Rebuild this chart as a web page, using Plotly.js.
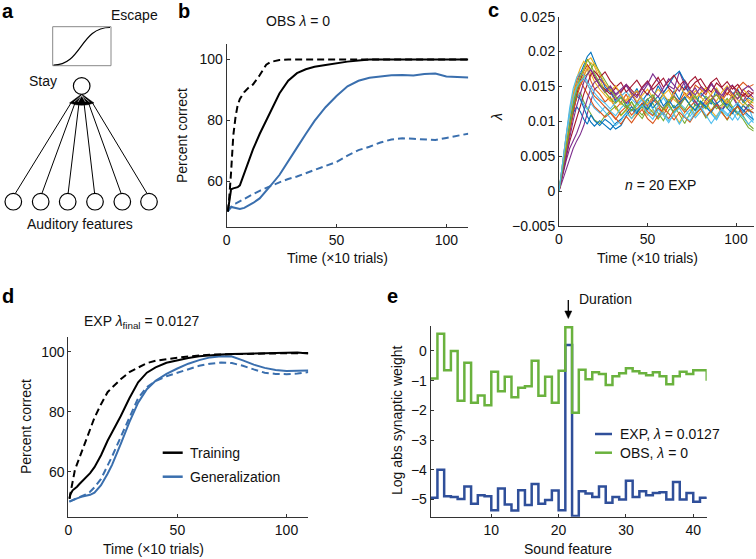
<!DOCTYPE html>
<html>
<head>
<meta charset="utf-8">
<script src="https://cdn.plot.ly/plotly-3.0.1.min.js"></script>
<style>
  html, body { margin: 0; padding: 0; background: #fff; }
  #chart { width: 756px; height: 559px; }
</style>
</head>
<body>
<div id="chart"></div>
<script>
// ---- panel b / d : percent correct over time (x10 trials)
const timeX = [0.5, 1, 2, 3, 4, 5, 6, 8, 10, 12, 15, 18, 20, 24, 28, 32, 36, 40, 45, 50, 55, 60, 65, 70, 75, 80, 85, 90, 95, 100, 105, 110];

const obsTrainDash = [50, 53, 63, 75, 81, 85, 87, 89.3, 90.8, 91.8, 94.8, 98.3, 99.2, 99.8, 100, 100, 100, 100, 100, 100, 100, 100, 100, 100, 100, 100, 100, 100, 100, 100, 100, 100];
const obsTrainSolid = [50, 53, 57.3, 57.6, 57.8, 58, 58.6, 62.5, 66.5, 70.5, 75.5, 80, 82.8, 88.8, 93, 95.5, 96.8, 97.6, 98.2, 98.8, 99.3, 99.7, 100, 100, 100, 100, 100, 100, 100, 100, 100, 100];
const obsGenSolid = [50, 50.8, 51.5, 51.3, 51, 50.8, 50.8, 51.2, 52, 52.8, 54.3, 57, 58.5, 62, 66.3, 71, 75.5, 79.8, 84.3, 88, 91.2, 93, 94, 94.5, 94.8, 94.9, 94.7, 95.2, 95.4, 94.4, 94.2, 94.1];
const obsGenDash = [50, 50.5, 51.5, 52.3, 52.6, 53, 53.5, 54.3, 55, 55.7, 56.8, 57.8, 58.3, 59.6, 60.7, 61.5, 62.6, 63.6, 64.8, 66.3, 68.4, 70.2, 71.3, 72.7, 73.7, 74.1, 73.9, 73.6, 73.5, 74.2, 74.8, 75.6];

const expTrainDash = [51, 53, 57.5, 60.5, 62.5, 64.5, 66.5, 70, 74.5, 78, 82.5, 86.5, 88, 90.8, 93.2, 94.8, 96.2, 97, 97.6, 98, 98.4, 98.8, 99, 99.1, 99.2, 99.2, 99.3, 99.3, 99.4, 99.5, 99.5, 99.6];
const expTrainSolid = [51, 52.5, 53.8, 54.3, 55, 55.8, 56.5, 57.8, 59.5, 61.5, 65.5, 70.3, 73, 78.5, 84.5, 89.8, 93, 94.8, 96.3, 97.2, 97.9, 98.5, 98.9, 99.1, 99.2, 99.3, 99.3, 99.4, 99.5, 99.8, 99.7, 99.4];
const expGenSolid = [50, 50.2, 50.5, 50.8, 51.1, 51.4, 51.6, 52, 52.3, 53, 55.5, 59.3, 62.2, 69.2, 76.5, 83, 87.5, 90.3, 92.6, 94.4, 96, 97.2, 98.1, 98.5, 98.4, 97.1, 95.7, 94.6, 93.9, 93.6, 93.6, 93.7];
const expGenDash = [50, 50.2, 50.5, 50.9, 51.2, 51.5, 51.8, 52.4, 53.3, 54.8, 57.6, 61.8, 65, 71.5, 78.3, 84.5, 88.2, 90.2, 91.8, 93, 94.2, 95.3, 96, 96.4, 96.2, 95.3, 94.1, 93, 92.6, 92.5, 92.7, 93.2];

// ---- panel c : lambda trajectories, n = 20 EXP
const lamX = [0, 2, 4, 6, 8, 10, 12, 14, 16, 18, 20, 23, 26, 29, 32, 35, 38, 41, 44, 47, 50, 53, 56, 59, 62, 65, 68, 71, 74, 77, 80, 83, 86, 89, 92, 95, 98, 101, 104, 107, 110];
const lam01 = [0, 0.0035, 0.0068, 0.0102, 0.0131, 0.0152, 0.0168, 0.0181, 0.0193, 0.0199, 0.0186, 0.0168, 0.0149, 0.0142, 0.0128, 0.0136, 0.0121, 0.0134, 0.0147, 0.0129, 0.0140, 0.0132, 0.0151, 0.0138, 0.0126, 0.0144, 0.0131, 0.0150, 0.0139, 0.0122, 0.0141, 0.0133, 0.0125, 0.0147, 0.0131, 0.0124, 0.0139, 0.0146, 0.0127, 0.0134, 0.0129];
const lam02 = [0, 0.0041, 0.0079, 0.0113, 0.0139, 0.0158, 0.0171, 0.0165, 0.0176, 0.0158, 0.0147, 0.0139, 0.0128, 0.0135, 0.0118, 0.0127, 0.0139, 0.0121, 0.0112, 0.0126, 0.0117, 0.0131, 0.0124, 0.0109, 0.0122, 0.0136, 0.0128, 0.0141, 0.0133, 0.0152, 0.0146, 0.0138, 0.0155, 0.0143, 0.0131, 0.0147, 0.0137, 0.0124, 0.0139, 0.0128, 0.0121];
const lam03 = [0, 0.0029, 0.0061, 0.0092, 0.0118, 0.0139, 0.0155, 0.0167, 0.0176, 0.0184, 0.0179, 0.0161, 0.0143, 0.0131, 0.0119, 0.0108, 0.0116, 0.0104, 0.0112, 0.0121, 0.0109, 0.0117, 0.0103, 0.0114, 0.0125, 0.0111, 0.0098, 0.0113, 0.0122, 0.0108, 0.0119, 0.0127, 0.0115, 0.0106, 0.0121, 0.0132, 0.0118, 0.0109, 0.0123, 0.0114, 0.0119];
const lam04 = [0, 0.0015, 0.0032, 0.0048, 0.0061, 0.0072, 0.0081, 0.0094, 0.0112, 0.0131, 0.0146, 0.0152, 0.0141, 0.0149, 0.0137, 0.0144, 0.0151, 0.0139, 0.0126, 0.0141, 0.0153, 0.0168, 0.0157, 0.0142, 0.0151, 0.0146, 0.0171, 0.0152, 0.0139, 0.0148, 0.0135, 0.0144, 0.0156, 0.0141, 0.0133, 0.0147, 0.0152, 0.0138, 0.0129, 0.0141, 0.0134];
const lam05 = [0, 0.0033, 0.0066, 0.0095, 0.0117, 0.0133, 0.0142, 0.0128, 0.0119, 0.0111, 0.0102, 0.0097, 0.0108, 0.0115, 0.0122, 0.0109, 0.0117, 0.0128, 0.0113, 0.0104, 0.0118, 0.0126, 0.0112, 0.0101, 0.0116, 0.0123, 0.0109, 0.0097, 0.0112, 0.0124, 0.0118, 0.0105, 0.0116, 0.0127, 0.0114, 0.0102, 0.0113, 0.0121, 0.0108, 0.0096, 0.0089];
const lam06 = [0, 0.0038, 0.0074, 0.0106, 0.0129, 0.0141, 0.0136, 0.0124, 0.0117, 0.0126, 0.0119, 0.0112, 0.0121, 0.0114, 0.0108, 0.0119, 0.0127, 0.0116, 0.0122, 0.0131, 0.0118, 0.0109, 0.0123, 0.0134, 0.0121, 0.0113, 0.0126, 0.0119, 0.0107, 0.0118, 0.0129, 0.0121, 0.0112, 0.0103, 0.0117, 0.0124, 0.0113, 0.0102, 0.0114, 0.0121, 0.0101];
const lam07 = [0, 0.0027, 0.0056, 0.0084, 0.0112, 0.0138, 0.0159, 0.0172, 0.0181, 0.0174, 0.0163, 0.0152, 0.0146, 0.0139, 0.0148, 0.0141, 0.0153, 0.0145, 0.0137, 0.0149, 0.0158, 0.0146, 0.0154, 0.0162, 0.0148, 0.0139, 0.0151, 0.0159, 0.0147, 0.0156, 0.0161, 0.0149, 0.0142, 0.0155, 0.0148, 0.0138, 0.0151, 0.0143, 0.0136, 0.0144, 0.0139];
const lam08 = [0, 0.0031, 0.0064, 0.0093, 0.0112, 0.0121, 0.0114, 0.0103, 0.0096, 0.0109, 0.0101, 0.0094, 0.0103, 0.0097, 0.0089, 0.0094, 0.0108, 0.0117, 0.0111, 0.0124, 0.0132, 0.0119, 0.0128, 0.0141, 0.0153, 0.0165, 0.0172, 0.0158, 0.0143, 0.0134, 0.0127, 0.0119, 0.0131, 0.0122, 0.0115, 0.0126, 0.0118, 0.0111, 0.0123, 0.0116, 0.0112];
const lam09 = [0, 0.0036, 0.0071, 0.0103, 0.0127, 0.0146, 0.0158, 0.0149, 0.0138, 0.0129, 0.0121, 0.0114, 0.0106, 0.0112, 0.0103, 0.0114, 0.0121, 0.0109, 0.0117, 0.0126, 0.0114, 0.0108, 0.0119, 0.0112, 0.0104, 0.0116, 0.0122, 0.0113, 0.0121, 0.0129, 0.0118, 0.0124, 0.0132, 0.0138, 0.0129, 0.0141, 0.0135, 0.0148, 0.0156, 0.0149, 0.0153];
const lam10 = [0, 0.0039, 0.0077, 0.0112, 0.0141, 0.0162, 0.0176, 0.0186, 0.0179, 0.0168, 0.0157, 0.0146, 0.0138, 0.0129, 0.0136, 0.0124, 0.0131, 0.0142, 0.0128, 0.0137, 0.0146, 0.0134, 0.0127, 0.0138, 0.0145, 0.0131, 0.0124, 0.0136, 0.0144, 0.0132, 0.0141, 0.0148, 0.0136, 0.0129, 0.0142, 0.0151, 0.0139, 0.0133, 0.0146, 0.0138, 0.0131];
const lam11 = [0, 0.0022, 0.0043, 0.0061, 0.0072, 0.0083, 0.0097, 0.0115, 0.0132, 0.0147, 0.0156, 0.0161, 0.0152, 0.0144, 0.0131, 0.0139, 0.0126, 0.0134, 0.0143, 0.0131, 0.0122, 0.0135, 0.0127, 0.0118, 0.0129, 0.0137, 0.0124, 0.0132, 0.0141, 0.0128, 0.0119, 0.0131, 0.0138, 0.0126, 0.0117, 0.0128, 0.0135, 0.0122, 0.0113, 0.0124, 0.0118];
const lam12 = [0, 0.0034, 0.0069, 0.0101, 0.0126, 0.0144, 0.0156, 0.0163, 0.0168, 0.0176, 0.0183, 0.0171, 0.0158, 0.0146, 0.0135, 0.0127, 0.0119, 0.0128, 0.0117, 0.0109, 0.0121, 0.0113, 0.0104, 0.0118, 0.0125, 0.0112, 0.0121, 0.0133, 0.0124, 0.0115, 0.0126, 0.0136, 0.0129, 0.0118, 0.0124, 0.0133, 0.0121, 0.0112, 0.0103, 0.0091, 0.0086];
const lam13 = [0, 0.0042, 0.0083, 0.0119, 0.0147, 0.0163, 0.0171, 0.0166, 0.0158, 0.0149, 0.0141, 0.0132, 0.0126, 0.0118, 0.0127, 0.0136, 0.0143, 0.0132, 0.0124, 0.0133, 0.0127, 0.0118, 0.0106, 0.0113, 0.0101, 0.0109, 0.0096, 0.0108, 0.0117, 0.0105, 0.0114, 0.0123, 0.0111, 0.0102, 0.0116, 0.0108, 0.0119, 0.0127, 0.0114, 0.0106, 0.0098];
const lam14 = [0, 0.0024, 0.0049, 0.0071, 0.0088, 0.0103, 0.0121, 0.0139, 0.0154, 0.0167, 0.0172, 0.0163, 0.0171, 0.0158, 0.0149, 0.0156, 0.0142, 0.0151, 0.0159, 0.0147, 0.0138, 0.0152, 0.0163, 0.0149, 0.0158, 0.0166, 0.0153, 0.0145, 0.0157, 0.0164, 0.0151, 0.0143, 0.0156, 0.0162, 0.0149, 0.0157, 0.0146, 0.0153, 0.0141, 0.0135, 0.0142];
const lam15 = [0, 0.0033, 0.0067, 0.0098, 0.0121, 0.0137, 0.0132, 0.0118, 0.0107, 0.0099, 0.0093, 0.0101, 0.0094, 0.0088, 0.0097, 0.0103, 0.0112, 0.0121, 0.0113, 0.0124, 0.0117, 0.0128, 0.0136, 0.0122, 0.0131, 0.0119, 0.0127, 0.0135, 0.0123, 0.0116, 0.0129, 0.0121, 0.0113, 0.0125, 0.0132, 0.0119, 0.0111, 0.0124, 0.0116, 0.0109, 0.0102];
const lam16 = [0, 0.0030, 0.0059, 0.0087, 0.0114, 0.0135, 0.0151, 0.0161, 0.0153, 0.0144, 0.0136, 0.0129, 0.0121, 0.0113, 0.0104, 0.0096, 0.0107, 0.0098, 0.0109, 0.0117, 0.0104, 0.0097, 0.0108, 0.0119, 0.0111, 0.0102, 0.0113, 0.0106, 0.0099, 0.0111, 0.0118, 0.0107, 0.0116, 0.0124, 0.0112, 0.0103, 0.0115, 0.0122, 0.0109, 0.0117, 0.0112];
const lam17 = [0, 0.0037, 0.0072, 0.0105, 0.0133, 0.0151, 0.0164, 0.0172, 0.0187, 0.0191, 0.0182, 0.0168, 0.0154, 0.0143, 0.0151, 0.0138, 0.0129, 0.0137, 0.0144, 0.0131, 0.0124, 0.0135, 0.0146, 0.0138, 0.0129, 0.0141, 0.0152, 0.0139, 0.0131, 0.0144, 0.0136, 0.0127, 0.0139, 0.0148, 0.0135, 0.0126, 0.0138, 0.0131, 0.0123, 0.0131, 0.0126];
const lam18 = [0, 0.0026, 0.0053, 0.0079, 0.0101, 0.0122, 0.0141, 0.0156, 0.0167, 0.0174, 0.0166, 0.0152, 0.0143, 0.0151, 0.0139, 0.0146, 0.0153, 0.0141, 0.0134, 0.0147, 0.0156, 0.0143, 0.0135, 0.0148, 0.0161, 0.0152, 0.0143, 0.0157, 0.0145, 0.0138, 0.0149, 0.0142, 0.0153, 0.0144, 0.0137, 0.0149, 0.0141, 0.0132, 0.0145, 0.0151, 0.0143];
const lam19 = [0, 0.0032, 0.0063, 0.0094, 0.0122, 0.0145, 0.0163, 0.0176, 0.0189, 0.0181, 0.0169, 0.0155, 0.0142, 0.0133, 0.0126, 0.0134, 0.0123, 0.0115, 0.0126, 0.0119, 0.0131, 0.0138, 0.0126, 0.0117, 0.0129, 0.0136, 0.0124, 0.0116, 0.0128, 0.0137, 0.0125, 0.0118, 0.0131, 0.0139, 0.0127, 0.0119, 0.0132, 0.0141, 0.0129, 0.0121, 0.0133];
const lam20 = [0, 0.0040, 0.0078, 0.0109, 0.0133, 0.0149, 0.0157, 0.0162, 0.0154, 0.0143, 0.0131, 0.0122, 0.0114, 0.0105, 0.0094, 0.0101, 0.0112, 0.0104, 0.0116, 0.0123, 0.0111, 0.0103, 0.0117, 0.0109, 0.0098, 0.0112, 0.0119, 0.0107, 0.0101, 0.0113, 0.0121, 0.0109, 0.0097, 0.0108, 0.0118, 0.0111, 0.0102, 0.0114, 0.0106, 0.0096, 0.0104];
const lamRuns = [lam01, lam02, lam03, lam04, lam05, lam06, lam07, lam08, lam09, lam10,
                 lam11, lam12, lam13, lam14, lam15, lam16, lam17, lam18, lam19, lam20];
const runColors = ['#0072BD', '#D95319', '#EDB120', '#7E2F8E', '#77AC30', '#4DBEEE', '#A2142F'];

// ---- panel e : log abs synaptic weight per sound feature
const featureX = [1, 2, 3, 4, 5, 6, 7, 8, 9, 10, 11, 12, 13, 14, 15, 16, 17, 18, 19, 20, 21,
                  22, 23, 24, 25, 26, 27, 28, 29, 30, 31, 32, 33, 34, 35, 36, 37, 38, 39, 40, 41, 42];
const expWeights = [-4.94, -4.00, -4.89, -4.92, -4.98, -4.56, -5.14, -4.86, -4.89, -5.36, -4.63, -5.17, -5.37, -4.69, -5.19, -4.48, -5.14, -5.02, -4.70, -5.36, 0.20,
                    -5.56, -4.72, -4.80, -4.92, -4.56, -5.11, -4.92, -5.00, -4.37, -4.92, -4.72, -4.86, -4.78, -4.76, -5.00, -4.41, -5.00, -4.78, -5.08, -4.94, -4.92];
const obsWeights = [-0.93, 0.58, -0.65, 0.00, -1.68, -0.40, -1.74, -1.50, -1.83, -0.70, -1.36, -0.87, -1.56, -1.24, -1.19, -0.33, -1.51, -0.87, -1.74, -0.67, 0.80,
                    -2.08, -0.63, -0.95, -0.72, -0.78, -1.15, -0.85, -0.75, -0.58, -0.68, -0.75, -0.82, -0.72, -0.85, -1.12, -0.85, -0.70, -0.78, -0.65, -0.65, -1.00];

const BLUE = '#3a6fae';
const FONT = 'Liberation Sans, Arial, sans-serif';
const FS = 14;

// pixel -> paper helpers (figure is 756 x 559 with no margins)
const W = 756, H = 559;
const px = x => x / W;
const py = y => 1 - y / H;

const curve = (x, y, xa, ya, color, dash) => ({
  x, y, xaxis: xa, yaxis: ya, type: 'scatter', mode: 'lines',
  line: { color, width: 2, dash: dash ? '7px,4px' : 'solid' },
  hoverinfo: 'skip'
});

const traces = [
  // b
  curve(timeX, obsGenDash, 'x', 'y', BLUE, true),
  curve(timeX, obsGenSolid, 'x', 'y', BLUE, false),
  curve(timeX, obsTrainDash, 'x', 'y', '#000', true),
  curve(timeX, obsTrainSolid, 'x', 'y', '#000', false),
  // d
  curve(timeX, expGenDash, 'x3', 'y3', BLUE, true),
  curve(timeX, expGenSolid, 'x3', 'y3', BLUE, false),
  curve(timeX, expTrainDash, 'x3', 'y3', '#000', true),
  curve(timeX, expTrainSolid, 'x3', 'y3', '#000', false)
];

// c
lamRuns.forEach((run, i) => {
  traces.push({
    x: lamX, y: run, xaxis: 'x2', yaxis: 'y2', type: 'scatter', mode: 'lines',
    line: { color: runColors[i % runColors.length], width: 1.1 },
    hoverinfo: 'skip'
  });
});

// e
traces.push({
  x: featureX, y: expWeights, xaxis: 'x4', yaxis: 'y4', type: 'scatter', mode: 'lines',
  line: { color: '#2f4f9a', width: 2.5, shape: 'hv' }, hoverinfo: 'skip'
});
traces.push({
  x: featureX, y: obsWeights, xaxis: 'x4', yaxis: 'y4', type: 'scatter', mode: 'lines',
  line: { color: '#6ab23e', width: 2.5, shape: 'hv' }, hoverinfo: 'skip'
});

const axisBase = {
  showgrid: false, zeroline: false, showline: true, linecolor: '#333', linewidth: 1,
  ticks: 'inside', ticklen: 3, tickcolor: '#333', tickfont: { size: FS, color: '#111' },
  fixedrange: true
};

const txt = (text, x, y, opts = {}) => Object.assign({
  text, x: px(x), y: py(y), xref: 'paper', yref: 'paper', showarrow: false,
  xanchor: 'center', yanchor: 'middle', font: { size: FS, color: '#111' }
}, opts);

const LETTER = { size: 20, color: '#000' };
const annotations = [
  txt('<b>a</b>', 8, 11, { font: LETTER }),
  txt('<b>b</b>', 184, 11, { font: LETTER }),
  txt('<b>c</b>', 493, 10, { font: LETTER }),
  txt('<b>d</b>', 8, 296, { font: LETTER }),
  txt('<b>e</b>', 392, 296, { font: LETTER }),
  // a
  txt('Escape', 134, 15),
  txt('Stay', 43, 81),
  txt('Auditory features', 80, 224),
  // b
  txt('OBS <i>λ</i> = 0', 298, 21),
  txt('Percent correct', 182, 136, { textangle: -90 }),
  txt('Time (×10 trials)', 337, 258),
  // c
  txt('<i>λ</i>', 497, 117, { textangle: -90 }),
  txt('<i>n</i> = 20 EXP', 660, 185),
  txt('Time (×10 trials)', 647, 258),
  // d
  txt('EXP <i>λ</i><sub>final</sub> = 0.0127', 142, 322),
  txt('Percent correct', 26, 427, { textangle: -90 }),
  txt('Time (×10 trials)', 153, 549),
  txt('Training', 188, 452.7, { xanchor: 'left' }),
  txt('Generalization', 188, 476.7, { xanchor: 'left' }),
  // e
  txt('Duration', 605, 299),
  txt('Log abs synaptic weight', 397, 420, { textangle: -90 }),
  txt('Sound feature', 568, 549),
  txt('EXP, <i>λ</i> = 0.0127', 618, 434, { xanchor: 'left' }),
  txt('OBS, <i>λ</i> = 0', 618, 452.7, { xanchor: 'left' })
];

// panel a network sketch, in pixel units of a hidden axis
const bottomX = [13.3, 40.7, 67.7, 95, 122.3, 149];
const fanX = [71, 75, 79, 84, 88.5, 92.5];
const R = 8.3;
const shapes = [
  { type: 'rect', xref: 'x5', yref: 'y5', x0: 52.7, y0: 26.7, x1: 111, y1: 65.7, line: { color: '#888', width: 1 } },
  { type: 'path', xref: 'x5', yref: 'y5', path: 'M 53.5 65 C 82 65, 80 27.5, 110 27.5', line: { color: '#000', width: 1.2 } },
  { type: 'path', xref: 'x5', yref: 'y5', path: 'M 69.5 103 L 81.7 94 L 94 103 Q 81.7 107.5 69.5 103 Z', fillcolor: '#000', line: { color: '#000', width: 0.5 } },
  { type: 'circle', xref: 'x5', yref: 'y5', x0: 81.7 - R, x1: 81.7 + R, y0: 86 - R, y1: 86 + R, line: { color: '#000', width: 1.2 }, fillcolor: '#fff' },
  // duration arrow (pixel units of the same hidden axis mapping: use paper)
  { type: 'line', xref: 'paper', yref: 'paper', x0: px(568.3), x1: px(568.3), y0: py(300), y1: py(312), line: { color: '#000', width: 1.3 } },
  { type: 'path', xref: 'paper', yref: 'paper',
    path: `M ${px(564.8)} ${py(311)} L ${px(571.8)} ${py(311)} L ${px(568.3)} ${py(318.5)} Z`,
    fillcolor: '#000', line: { color: '#000', width: 0.5 } },
  // legend samples
  { type: 'line', xref: 'paper', yref: 'paper', x0: px(162.7), x1: px(182.7), y0: py(452.7), y1: py(452.7), line: { color: '#000', width: 2.5 } },
  { type: 'line', xref: 'paper', yref: 'paper', x0: px(162.7), x1: px(182.7), y0: py(476.7), y1: py(476.7), line: { color: BLUE, width: 2.5 } },
  { type: 'line', xref: 'paper', yref: 'paper', x0: px(595), x1: px(612), y0: py(434), y1: py(434), line: { color: '#2f4f9a', width: 2.5 } },
  { type: 'line', xref: 'paper', yref: 'paper', x0: px(595), x1: px(612), y0: py(452.7), y1: py(452.7), line: { color: '#6ab23e', width: 2.5 } }
];
bottomX.forEach((cx, i) => {
  shapes.push({ type: 'line', xref: 'x5', yref: 'y5', x0: cx + (81.7 - cx) * 0.03, y0: 193.4, x1: fanX[i], y1: 103, line: { color: '#000', width: 1 } });
  shapes.push({ type: 'circle', xref: 'x5', yref: 'y5', x0: cx - R, x1: cx + R, y0: 201.7 - R, y1: 201.7 + R, line: { color: '#000', width: 1.2 }, fillcolor: '#fff' });
});
// white streaks across the fan
[74, 78, 85.5, 89.5].forEach(sx => {
  shapes.push({ type: 'line', xref: 'x5', yref: 'y5', x0: 81.7, y0: 95.5, x1: sx, y1: 102, line: { color: '#fff', width: 0.6 } });
});

const layout = {
  width: W, height: H,
  margin: { l: 0, r: 0, t: 0, b: 0 },
  paper_bgcolor: '#fff', plot_bgcolor: 'rgba(0,0,0,0)',
  font: { family: FONT, size: FS, color: '#111' },
  showlegend: false,
  xaxis: Object.assign({}, axisBase, { domain: [px(226.7), px(468.3)], range: [0, 110], tickvals: [0, 50, 100], anchor: 'y' }),
  yaxis: Object.assign({}, axisBase, { domain: [py(226.7), py(44.3)], range: [45, 105], tickvals: [60, 80, 100], anchor: 'x' }),
  xaxis2: Object.assign({}, axisBase, { domain: [px(559), px(753.7)], range: [0, 110], tickvals: [0, 50, 100], anchor: 'y2' }),
  yaxis2: Object.assign({}, axisBase, {
    domain: [py(226), py(16.7)], range: [-0.005, 0.025], anchor: 'x2',
    tickvals: [-0.005, 0, 0.005, 0.01, 0.015, 0.02, 0.025],
    ticktext: ['−0.005', '0', '0.005', '0.01', '0.015', '0.02', '0.025']
  }),
  xaxis3: Object.assign({}, axisBase, { domain: [px(68.3), px(308.3)], range: [0, 110], tickvals: [0, 50, 100], anchor: 'y3' }),
  yaxis3: Object.assign({}, axisBase, { domain: [py(516.7), py(336.7)], range: [45, 105], tickvals: [60, 80, 100], anchor: 'x3' }),
  xaxis4: Object.assign({}, axisBase, { domain: [px(430.7), px(706.7)], range: [1, 42], tickvals: [10, 20, 30, 40], anchor: 'y4' }),
  yaxis4: Object.assign({}, axisBase, { domain: [py(516.7), py(326)], range: [-5.58, 0.84], tickvals: [-5, -4, -3, -2, -1, 0], anchor: 'x4' }),
  xaxis5: { domain: [0, px(180)], range: [0, 180], visible: false, fixedrange: true, anchor: 'y5' },
  yaxis5: { domain: [py(250), 1], range: [250, 0], visible: false, fixedrange: true, anchor: 'x5' },
  annotations,
  shapes
};

Plotly.newPlot('chart', traces, layout, { staticPlot: true, displayModeBar: false });
</script>
</body>
</html>
